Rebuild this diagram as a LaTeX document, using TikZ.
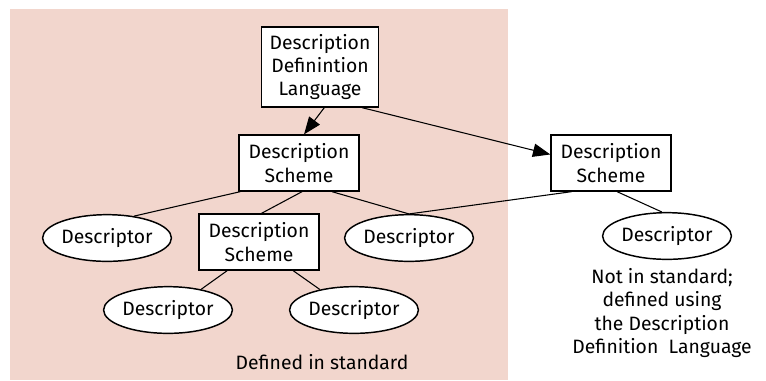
\documentclass[tikz,border=0pt]{standalone}
\usepackage{fontspec}
\setmainfont{Fira Sans}
\usepackage{tikz}
\usetikzlibrary{arrows.meta,shapes.geometric}
\definecolor{stdpink}{RGB}{242,214,205}

\begin{document}
\begin{tikzpicture}[x=0.75pt,y=-0.75pt,>={Triangle[length=13pt,width=10pt]},
  font=\fontsize{14.5}{17.5}\selectfont,
  scheme/.style={draw,fill=white,line width=1pt,align=center,minimum width=90pt,minimum height=42pt,inner sep=1pt},
  descr/.style={ellipse,draw,fill=white,line width=1.1pt,minimum width=94pt,minimum height=35pt,inner sep=0pt},
  link/.style={line width=0.8pt}]
  \useasboundingbox (0,0) rectangle (766,380);
  \fill[stdpink] (10,9) rectangle (508,380);

  \node[scheme,minimum width=88pt,minimum height=60pt] (ddl) at (320,67) {Description\\Definintion\\Language};
  \node[scheme] (ds)  at (299,163) {Description\\Scheme};
  \node[scheme] (dsx) at (611,163) {Description\\Scheme};
  \node[scheme] (ds2) at (259,242) {Description\\Scheme};

  \node[descr] (d1) at (107,238) {Descriptor};
  \node[descr] (d2) at (409,238) {Descriptor};
  \node[descr] (d3) at (667,236) {Descriptor};
  \node[descr] (d4) at (168,310) {Descriptor};
  \node[descr] (d5) at (354,310) {Descriptor};

  \node (instd) at (322,362) {Defined in standard};
  \node[align=center] (notstd) at (662,313) {Not in standard;\\defined using\\the Description\\Definition~~Language};

  \draw[link,->] (ddl.-84) -- (ds.80);
  \draw[link,->] (ddl.-44) -- (dsx.172);
  \draw[link] (ds.-154) -- (d1.39);
  \draw[link] (ds.-84) -- (ds2.85);
  \draw[link] (ds.-41) -- (d2.north);
  \draw[link] (dsx.-144) -- (d2.north);
  \draw[link] (dsx.-78) -- (d3.102);
  \draw[link] (ds2.-138) -- (d4.32);
  \draw[link] (ds2.-40) -- (d5.149);
\end{tikzpicture}
\end{document}
